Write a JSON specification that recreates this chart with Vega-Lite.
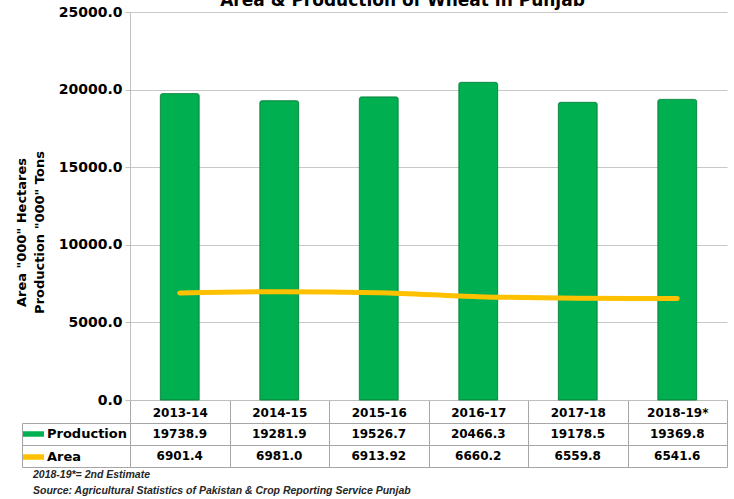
{
  "$schema": "https://vega.github.io/schema/vega-lite/v6.json",
  "padding": {"left": 15, "top": -8, "right": 0, "bottom": 0},
  "background": "white",
  "config": {"view": {"stroke": null}, "font": "DejaVu Sans"},
  "datasets": {
    "wheat": [
      {"year": "2013-14", "Production": 19738.9, "Area": 6901.4},
      {"year": "2014-15", "Production": 19281.9, "Area": 6981.0},
      {"year": "2015-16", "Production": 19526.7, "Area": 6913.92},
      {"year": "2016-17", "Production": 20466.3, "Area": 6660.2},
      {"year": "2017-18", "Production": 19178.5, "Area": 6559.8},
      {"year": "2018-19*", "Production": 19369.8, "Area": 6541.6}
    ],
    "table": [
      {"year": "2013-14", "row": "Production", "text": "19738.9"},
      {"year": "2014-15", "row": "Production", "text": "19281.9"},
      {"year": "2015-16", "row": "Production", "text": "19526.7"},
      {"year": "2016-17", "row": "Production", "text": "20466.3"},
      {"year": "2017-18", "row": "Production", "text": "19178.5"},
      {"year": "2018-19*", "row": "Production", "text": "19369.8"},
      {"year": "2013-14", "row": "Area", "text": "6901.4"},
      {"year": "2014-15", "row": "Area", "text": "6981.0"},
      {"year": "2015-16", "row": "Area", "text": "6913.92"},
      {"year": "2016-17", "row": "Area", "text": "6660.2"},
      {"year": "2017-18", "row": "Area", "text": "6559.8"},
      {"year": "2018-19*", "row": "Area", "text": "6541.6"}
    ]
  },
  "bounds": "flush",
  "spacing": 23,
  "resolve": {"scale": {"color": "independent"}, "legend": {"color": "independent"}},
  "vconcat": [
    {
      "width": 597,
      "height": 388,
      "data": {"name": "wheat"},
      "title": {"text": "Area & Production of Wheat in Punjab", "fontSize": 17, "fontWeight": "bold", "font": "DejaVu Sans", "color": "#000", "baseline": "alphabetic", "offset": -18, "anchor": "middle", "dx": -26},
      "encoding": {
        "x": {
          "field": "year", "type": "ordinal", "sort": null,
          "scale": {"paddingInner": 0, "paddingOuter": 0},
          "axis": {"orient": "bottom", "title": null, "tickBand": "extent", "tickSize": 23, "tickColor": "#A6A6A6", "domainColor": "#BFBFBF", "labelFont": "DejaVu Sans", "labelFontWeight": "bold", "labelFontSize": 12, "labelColor": "#000", "labelAngle": 0, "labelBaseline": "middle", "labelPadding": -11, "grid": false}
        }
      },
      "layer": [
        {
          "mark": {"type": "bar", "width": {"band": 0.39}, "stroke": "#0B8C43", "strokeWidth": 1, "cornerRadiusTopLeft": 2, "cornerRadiusTopRight": 2},
          "encoding": {
            "y": {
              "field": "Production", "type": "quantitative",
              "scale": {"domain": [0, 25000], "nice": false},
              "axis": {"values": [0, 5000, 10000, 15000, 20000, 25000], "format": ".1f", "labelFont": "DejaVu Sans", "labelFontWeight": "bold", "labelFontSize": 14, "labelColor": "#000", "labelPadding": 3, "tickSize": 5, "tickColor": "#BFBFBF", "domainColor": "#BFBFBF", "grid": true, "gridColor": "#C8C8C8", "titleFont": "DejaVu Sans", "titleFontSize": 13, "titleFontWeight": "bold", "titleColor": "#000", "titleLineHeight": 18, "titlePadding": 12, "titleY": 220},
              "title": ["Area \"000\" Hectares", "Production \"000\" Tons"]
            },
            "color": {
              "datum": "Production",
              "scale": {"domain": ["Production", "Area"], "range": ["#00B050", "#FFC000"]},
              "legend": {"orient": "none", "legendX": -108, "legendY": 411, "title": null, "symbolType": "M-1,-0.25H1V0.25H-1Z", "symbolSize": 484, "symbolStrokeWidth": 0, "labelFont": "DejaVu Sans", "labelFontSize": 13, "labelFontWeight": "bold", "labelColor": "#000", "labelOffset": 3, "rowPadding": 5, "padding": 0, "direction": "vertical"}
            }
          }
        },
        {
          "mark": {"type": "line", "interpolate": "monotone", "strokeWidth": 5, "strokeCap": "round"},
          "encoding": {
            "y": {"field": "Area", "type": "quantitative"},
            "color": {"datum": "Area"}
          }
        }
      ]
    },
    {
      "width": 597,
      "height": 44,
      "data": {"name": "table"},
      "title": {"text": ["2018-19*= 2nd Estimate", "Source: Agricultural Statistics of Pakistan & Crop Reporting Service Punjab"], "orient": "bottom", "anchor": "start", "frame": "group", "dx": -97, "offset": 2, "font": "Liberation Sans", "fontSize": 10.5, "fontStyle": "italic", "fontWeight": "bold", "color": "#262626", "lineHeight": 16, "baseline": "top"},
      "encoding": {
        "x": {
          "field": "year", "type": "ordinal", "sort": null,
          "scale": {"paddingInner": 0, "paddingOuter": 0},
          "axis": {"title": null, "labels": false, "ticks": false, "domain": false, "grid": true, "tickBand": "extent", "gridColor": "#A6A6A6"}
        },
        "y": {
          "field": "row", "type": "nominal", "sort": ["Production", "Area"],
          "scale": {"paddingInner": 0, "paddingOuter": 0}
        }
      },
      "layer": [
        {
          "mark": {"type": "text", "font": "DejaVu Sans", "fontWeight": "bold", "fontSize": 12, "color": "#000"},
          "encoding": {
            "y": {"field": "row", "type": "nominal", "sort": ["Production", "Area"], "axis": {"title": null, "labels": false, "ticks": true, "domain": true, "grid": true, "tickBand": "extent", "tickSize": 108, "tickColor": "#A6A6A6", "domainColor": "#A6A6A6", "gridColor": "#A6A6A6"}},
            "text": {"field": "text"}
          }
        },
        {
          "mark": {"type": "text", "opacity": 0},
          "encoding": {
            "y": {"field": "row", "type": "nominal", "sort": ["Production", "Area"], "axis": {"orient": "left", "offset": 108, "title": null, "labels": false, "ticks": false, "grid": false, "domain": true, "domainColor": "#A6A6A6"}},
            "text": {"field": "text"}
          }
        }
      ],
      "resolve": {"axis": {"y": "independent"}}
    }
  ]
}
